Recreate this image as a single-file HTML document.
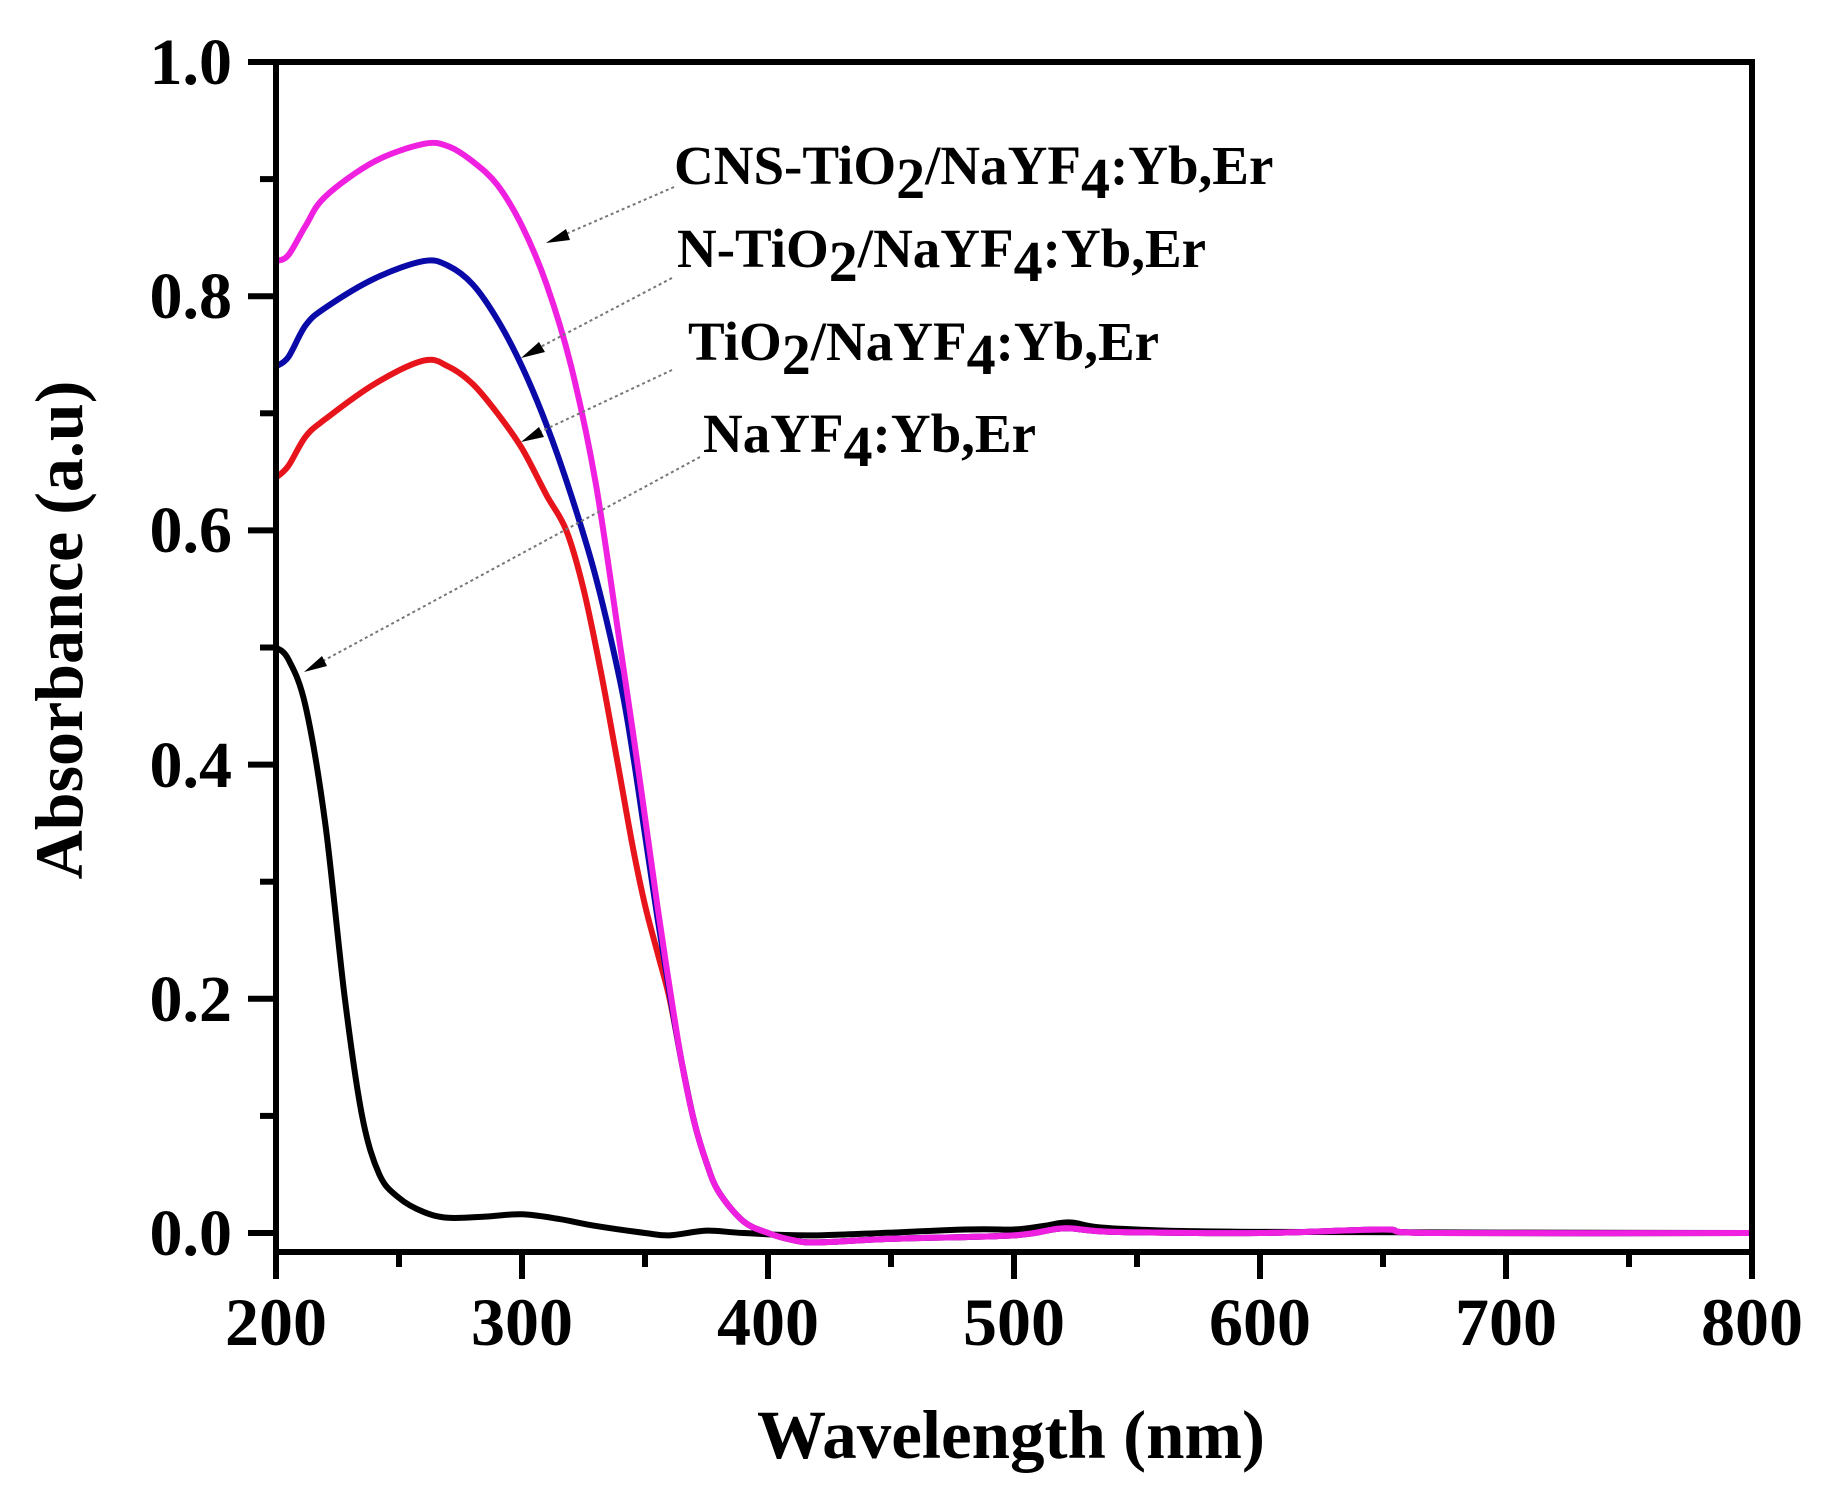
<!DOCTYPE html>
<html><head><meta charset="utf-8"><style>
html,body{margin:0;padding:0;background:#fff;width:1822px;height:1490px;overflow:hidden}
svg{display:block}
text{font-family:"Liberation Serif",serif;font-weight:bold;fill:#000}
</style></head><body>
<svg id="s" width="1822" height="1490" viewBox="0 0 1822 1490" xmlns="http://www.w3.org/2000/svg">
<rect x="0" y="0" width="1822" height="1490" fill="#fff"/>
<g id="curves"></g>
<rect x="276" y="62" width="1476" height="1190" fill="none" stroke="#000" stroke-width="6"/>
<g id="ticks" stroke="#000" stroke-width="6"></g>
<g font-size="66" text-anchor="end">
<text x="232" y="84">1.0</text>
<text x="232" y="318">0.8</text>
<text x="232" y="552">0.6</text>
<text x="232" y="787">0.4</text>
<text x="232" y="1021">0.2</text>
<text x="232" y="1255">0.0</text>
</g>
<g font-size="68" text-anchor="middle">
<text x="276" y="1345">200</text>
<text x="522" y="1345">300</text>
<text x="768" y="1345">400</text>
<text x="1014" y="1345">500</text>
<text x="1260" y="1345">600</text>
<text x="1506" y="1345">700</text>
<text x="1752" y="1345">800</text>
</g>
<text x="1011" y="1458" font-size="69" text-anchor="middle">Wavelength (nm)</text>
<text transform="translate(82,630) rotate(-90)" font-size="68" text-anchor="middle">Absorbance (a.u)</text>
<g stroke="#777" stroke-width="2" stroke-dasharray="3,3" fill="none">
<line x1="674" y1="187" x2="552" y2="240"/>
<line x1="672" y1="278" x2="527" y2="354"/>
<line x1="672" y1="370" x2="527" y2="438"/>
<line x1="700" y1="457" x2="310" y2="668"/>
</g>
<g fill="#000">
<polygon points="546,243 566,229 570,240"/>
<polygon points="521,358 539,342 545,352"/>
<polygon points="521,442 539,427 544,437"/>
<polygon points="304,672 322,656 327,666"/>
</g>
<g font-size="55">
<text x="674" y="184">CNS-TiO<tspan font-size="58" dy="14">2</tspan><tspan dy="-14">/NaYF</tspan><tspan font-size="58" dy="14">4</tspan><tspan dy="-14">:Yb,Er</tspan></text>
<text x="677" y="267">N-TiO<tspan font-size="58" dy="14">2</tspan><tspan dy="-14">/NaYF</tspan><tspan font-size="58" dy="14">4</tspan><tspan dy="-14">:Yb,Er</tspan></text>
<text x="688" y="360">TiO<tspan font-size="58" dy="14">2</tspan><tspan dy="-14">/NaYF</tspan><tspan font-size="58" dy="14">4</tspan><tspan dy="-14">:Yb,Er</tspan></text>
<text x="703" y="452">NaYF<tspan font-size="58" dy="14">4</tspan><tspan dy="-14">:Yb,Er</tspan></text>
</g>
</svg>
<script>
var X=function(w){return 276+(w-200)*2.46},Y=function(a){return 1233-a*1171};
function path(pts){var p=pts.map(function(d){return [X(d[0]),Y(d[1])]});var s="M"+p[0][0]+","+p[0][1];
for(var i=0;i<p.length-1;i++){var p0=p[i-1]||p[i],p1=p[i],p2=p[i+1],p3=p[i+2]||p2;
s+=" C"+(p1[0]+(p2[0]-p0[0])/6)+","+(p1[1]+(p2[1]-p0[1])/6)+" "+(p2[0]-(p3[0]-p1[0])/6)+","+(p2[1]-(p3[1]-p1[1])/6)+" "+p2[0]+","+p2[1];}return s;}
var low=[[365,0.145],[370,0.095],[375,0.06],[380,0.035],[390,0.01],[400,0.0],[410,-0.006],[420,-0.008],[450,-0.005],[500,-0.002],[520,0.004],[540,0.001],[600,0.0],[650,0.003],[670,0.0],[800,0.0]];
var black=[[200,0.5],[205,0.49],[212,0.45],[220,0.35],[228,0.2],[235,0.1],[242,0.05],[250,0.03],[260,0.018],[270,0.013],[285,0.014],[300,0.016],[315,0.012],[330,0.006],[350,0.0],[360,-0.002],[375,0.002],[390,0.0],[420,-0.002],[480,0.003],[500,0.003],[512,0.006],[523,0.009],[540,0.004],[600,0.001],[800,0.0]];
var red=[[200,0.645],[205,0.655],[212,0.68],[220,0.695],[240,0.725],[260,0.745],[270,0.74],[280,0.725],[290,0.70],[300,0.67],[310,0.63],[318,0.6],[325,0.55],[332,0.48],[339,0.40],[345,0.33],[350,0.28],[355,0.24],[360,0.2]].concat(low);
var blue=[[200,0.74],[205,0.748],[212,0.775],[220,0.79],[240,0.815],[260,0.83],[270,0.826],[280,0.81],[290,0.78],[300,0.74],[310,0.69],[320,0.63],[330,0.56],[340,0.47],[345,0.41],[350,0.34],[355,0.27],[360,0.205]].concat(low);
var mag=[[200,0.83],[205,0.835],[212,0.86],[220,0.885],[240,0.915],[260,0.93],[270,0.928],[280,0.915],[290,0.895],[300,0.86],[310,0.81],[320,0.74],[330,0.64],[340,0.50],[347,0.40],[355,0.28],[360,0.21]].concat(low);
var g=document.getElementById("curves"),ns="http://www.w3.org/2000/svg";
[[black,"#000"],[red,"#e8141c"],[blue,"#0a0aa8"],[mag,"#f020e0"]].forEach(function(c){var e=document.createElementNS(ns,"path");e.setAttribute("d",path(c[0]));e.setAttribute("fill","none");e.setAttribute("stroke",c[1]);e.setAttribute("stroke-width","6");g.appendChild(e);});
var t=document.getElementById("ticks"),h="";
for(var i=0;i<=10;i++){var y=Y(i*0.1),L=(i%2==0)?28:16;h+='<line x1="'+(276-L)+'" y1="'+y+'" x2="276" y2="'+y+'"/>';}
for(var w=200;w<=800;w+=50){var x=X(w),L=(w%100==0)?27:15;h+='<line x1="'+x+'" y1="1252" x2="'+x+'" y2="'+(1252+L)+'"/>';}
t.innerHTML=h;
</script>
</body></html>
